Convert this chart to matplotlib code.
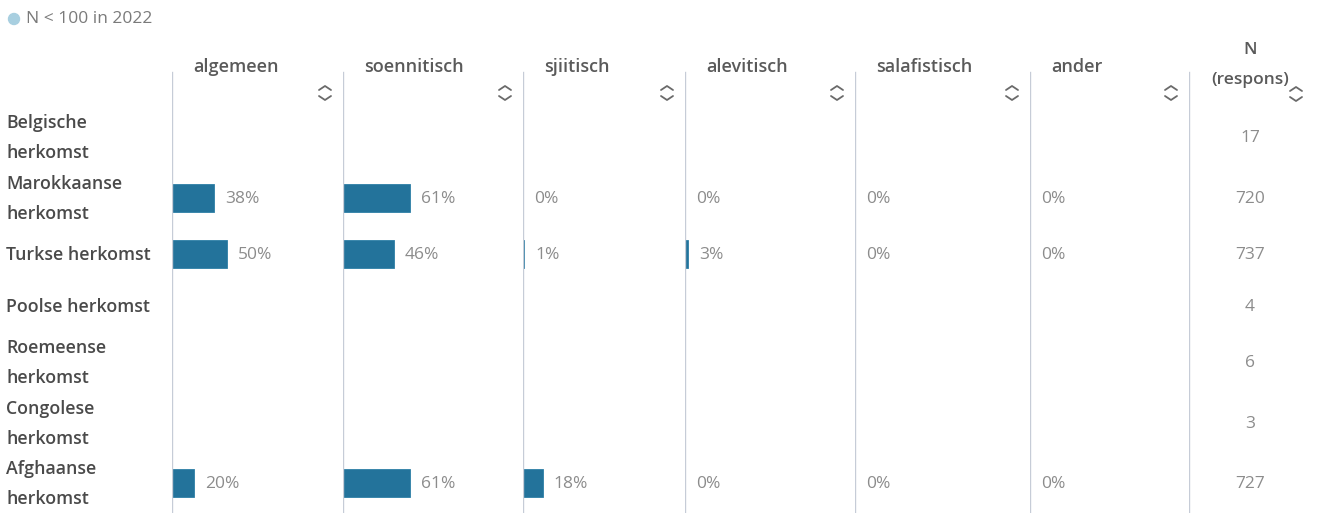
import numpy as np
import matplotlib
matplotlib.use("Agg")
import matplotlib.pyplot as plt
from matplotlib.lines import Line2D

plt.rcParams['font.family'] = ['Open Sans', 'DejaVu Sans']

# ---- data ----
rows = ["Belgische\nherkomst", "Marokkaanse\nherkomst", "Turkse herkomst",
        "Poolse herkomst", "Roemeense\nherkomst", "Congolese\nherkomst",
        "Afghaanse\nherkomst"]
columns = ["algemeen", "soennitisch", "sjiitisch", "alevitisch", "salafistisch", "ander"]
nan = np.nan
algemeen = [nan, 38, 50, nan, nan, nan, 20]
soennitisch = [nan, 61, 46, nan, nan, nan, 61]
sjiitisch = [nan, 0, 1, nan, nan, nan, 18]
alevitisch = [nan, 0, 3, nan, nan, nan, 0]
salafistisch = [nan, 0, 0, nan, nan, nan, 0]
ander = [nan, 0, 0, nan, nan, nan, 0]
n_respons = [17, 720, 737, 4, 6, 3, 727]
legend_label = "N < 100 in 2022"
n_header = "N\n(respons)"

values = [algemeen, soennitisch, sjiitisch, alevitisch, salafistisch, ander]

# ---- layout (pixels) ----
W, H = 1317, 513
col_x = [172, 343, 523, 685, 855, 1030, 1189]
row_y = [137, 198, 254, 306, 362, 423, 483]
px_per_pct = 1.1
bar_h = 28
line_top = 73

BAR = "#23739b"
LINE = "#c6ccd7"
TXT_DARK = "#4a4a4a"
TXT_HEAD = "#5a5a5a"
TXT_PCT = "#8c8c8c"

fig = plt.figure(figsize=(W / 100, H / 100), dpi=100)

def fx(x):
    return x / W

def fy(y):
    return 1 - y / H

# legend
fig.add_artist(matplotlib.patches.Ellipse((fx(14), fy(19)), 11 / W, 11 / H,
               transform=fig.transFigure, color="#a8cfe0"))
fig.text(fx(26), fy(19), legend_label, fontsize=12.5, color="#7a7a7a", va="center", ha="left")

# row labels
for lab, y in zip(rows, row_y):
    fig.text(fx(6), fy(y + 1), lab, fontsize=12.8, fontweight="semibold", color=TXT_DARK,
             va="center", ha="left", linespacing=1.9)

def chevrons(x, y):
    # small up/down sort chevrons centred at (x, y) px
    w, h, gap = 6, 4, 3
    for sgn in (-1, 1):
        yy0 = y + sgn * gap
        yy1 = y + sgn * (gap + h)
        fig.add_artist(Line2D([fx(x - w), fx(x), fx(x + w)],
                              [fy(yy0), fy(yy1), fy(yy0)],
                              transform=fig.transFigure, color="#6a6a6a", lw=1.3,
                              solid_capstyle="round", solid_joinstyle="round"))

# column axes
for i, (name, vals) in enumerate(zip(columns, values)):
    x0, x1 = col_x[i], col_x[i + 1]
    ax = fig.add_axes([fx(x0), 0, (x1 - x0) / W, 1])
    ax.set_xlim(0, (x1 - x0) / px_per_pct)
    ax.set_ylim(H, 0)
    ax.axis("off")
    ax.axvline(0, ymin=0, ymax=1 - line_top / H, color=LINE, lw=1.7)
    v = np.array(vals, dtype=float)
    ok = ~np.isnan(v)
    ax.barh(np.array(row_y)[ok], v[ok], height=bar_h, left=0, color=BAR,
            edgecolor="#2d7fa6", linewidth=0.6)
    for y, val in zip(np.array(row_y)[ok], v[ok]):
        ax.text(val + 11 / px_per_pct, y + 1, f"{val:.0f}%", fontsize=12.5, color=TXT_PCT,
                va="center", ha="left")
    fig.text(fx(x0 + 21), fy(67), name, fontsize=13, fontweight="semibold",
             color=TXT_HEAD, va="center", ha="left")
    chevrons(x1 - 18, 93)

# N column
axn = fig.add_axes([fx(col_x[-1]), 0, (W - col_x[-1]) / W, 1])
axn.set_xlim(col_x[-1], W)
axn.set_ylim(H, 0)
axn.axis("off")
axn.axvline(col_x[-1], ymin=0, ymax=1 - line_top / H, color=LINE, lw=1.7)
for y, n in zip(row_y, n_respons):
    axn.text(1250, y + 1, str(n), fontsize=12.5, color=TXT_PCT, va="center", ha="center")
fig.text(fx(1250), fy(65), n_header, fontsize=12.5, fontweight="semibold", color=TXT_HEAD,
         va="center", ha="center", linespacing=2.15)
chevrons(1296, 94)

fig.savefig("out.png", dpi=100)
